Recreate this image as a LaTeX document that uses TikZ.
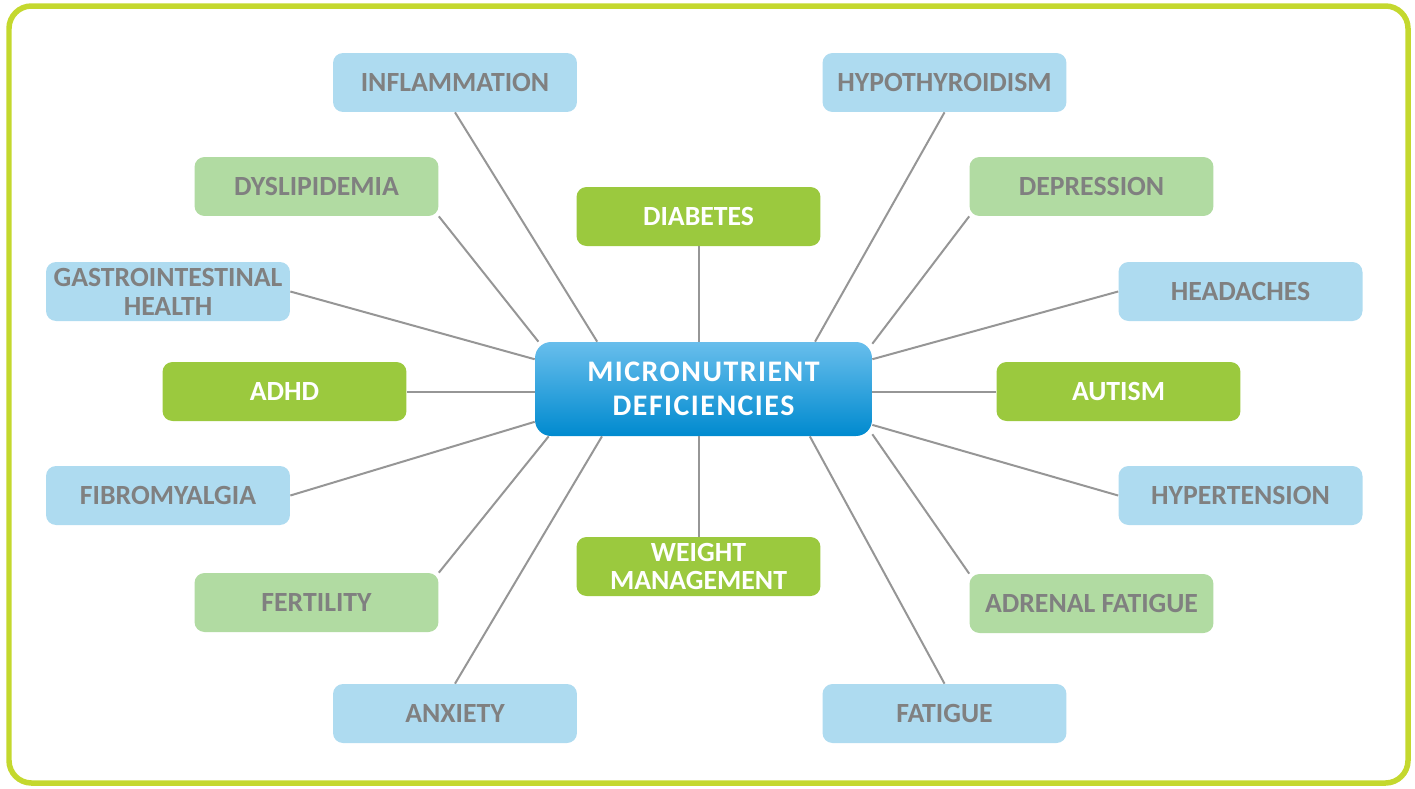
\documentclass[tikz,border=0pt]{standalone}
\usepackage{fontspec}
\setmainfont{Carlito}
\usetikzlibrary{positioning}
\definecolor{skyb}{RGB}{174,219,240}
\definecolor{paleg}{RGB}{177,219,162}
\definecolor{leaf}{RGB}{155,201,62}
\definecolor{txtgray}{RGB}{128,128,128}
\definecolor{linegray}{RGB}{150,150,150}
\definecolor{framecol}{RGB}{196,216,46}
\definecolor{midtop}{RGB}{104,190,236}
\definecolor{midbot}{RGB}{0,138,207}

\begin{document}
\begin{tikzpicture}[x=0.02cm,y=-0.02cm]
      \tikzset{box/.style={rounded corners=0.2cm,align=center,minimum width=4.88cm,minimum height=1.18cm,inner sep=0pt,text=txtgray,font=\bfseries\fontsize{15.8}{16.4}\selectfont},
        blu/.style={box,fill=skyb},lgr/.style={box,fill=paleg},dgr/.style={box,fill=leaf,text=white},
        link/.style={draw=linegray,line width=0.04cm}}
      \useasboundingbox (0,0) rectangle (1415,788);
      \draw[framecol,line width=0.11cm,rounded corners=0.45cm] (9,6) rectangle (1408,783);
      % centre
      \node[rounded corners=0.32cm,minimum width=6.74cm,minimum height=1.88cm,align=center,text=white,shading=axis,top color=midtop,middle color=midtop!85!midbot,bottom color=midbot,
        font=\bfseries\fontsize{17}{19.5}\selectfont\addfontfeature{LetterSpace=5}] (mid) at (703.5,389) {MICRONUTRIENT\\DEFICIENCIES};
      % left side
      \node[blu] (infl) at (455,82.5) {INFLAMMATION};\node[lgr] (dysl) at (316.5,186.5) {DYSLIPIDEMIA};
      \node[blu] (gast) at (168,291.5) {GASTROINTESTINAL\\HEALTH};\node[dgr] (adhd) at (284.5,391.5) {ADHD};
      \node[blu] (fibr) at (168,495.5) {FIBROMYALGIA};\node[lgr] (fert) at (316.5,602.5) {FERTILITY};
      \node[blu] (anxi) at (455,713.5) {ANXIETY};
      % middle column
      \node[dgr] (diab) at (698.5,216.5) {DIABETES};\node[dgr] (weig) at (698.5,566.5) {WEIGHT\\MANAGEMENT};
      % right side
      \node[blu] (hypo) at (944.5,82.5) {HYPOTHYROIDISM};\node[lgr] (depr) at (1091.5,186.5) {DEPRESSION};
      \node[blu] (head) at (1240.5,291.5) {HEADACHES};\node[dgr] (auti) at (1118.5,391.5) {AUTISM};
      \node[blu] (hypt) at (1240.5,495.5) {HYPERTENSION};\node[lgr] (adre) at (1091.5,603.5) {ADRENAL FATIGUE};
      \node[blu] (fati) at (944.5,713.5) {FATIGUE};
      \foreach \a/\b in {infl.south/156,dysl.south east/164.9,gast.east/170.9,fibr.east/191.7,fert.north east/197.3,anxi.north/205.5,
        hypo.south/23.8,depr.south west/15.2,head.west/10.4,hypt.west/348.9,adre.north west/345.2,fati.north/336.6}{\draw[link] (\a)--(mid.\b);}
      \draw[link] (adhd.east)--(adhd.east-|mid.west);\draw[link] (auti.west)--(auti.west-|mid.east);
      \draw[link] (diab.south)--(diab.south|-mid.north);\draw[link] (weig.north)--(weig.north|-mid.south);
    \end{tikzpicture}
\end{document}
